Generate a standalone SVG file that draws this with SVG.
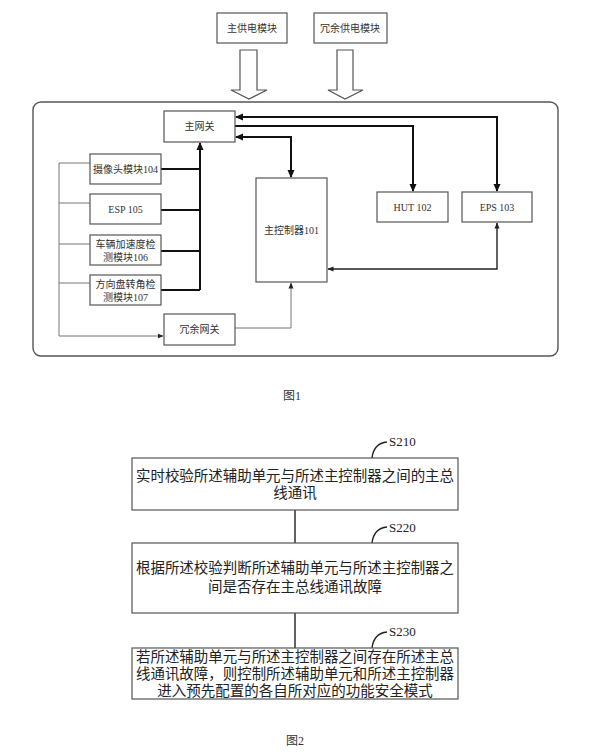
<svg xmlns="http://www.w3.org/2000/svg" width="600" height="755" viewBox="0 0 600 755">
<style>
.box{fill:#fff;stroke:#555;stroke-width:1.2}
.t{font-family:"Liberation Serif","Noto Sans CJK SC",serif;font-size:10px;fill:#333;text-anchor:middle}
.t2{font-family:"Liberation Serif","Noto Sans CJK SC",serif;font-size:14.5px;fill:#222;text-anchor:middle}
.thick{fill:none;stroke:#111;stroke-width:2}
.med{fill:none;stroke:#222;stroke-width:1.4}
.thin{fill:none;stroke:#777;stroke-width:1}
.hollow{fill:#fff;stroke:#555;stroke-width:1.2}
</style>
<defs>
<marker id="ah" markerWidth="8" markerHeight="8" refX="7" refY="4" orient="auto-start-reverse" markerUnits="userSpaceOnUse"><path d="M0,0.5 L8,4 L0,7.5 Z" fill="#111"/></marker>
<marker id="as" markerWidth="6" markerHeight="6" refX="5.5" refY="3" orient="auto-start-reverse" markerUnits="userSpaceOnUse"><path d="M0,0.5 L6,3 L0,5.5 Z" fill="#222"/></marker>
</defs>
<rect width="600" height="755" fill="#fff"/>
<!-- outer frame -->
<rect x="33" y="102" width="525" height="254" rx="8" fill="none" stroke="#555" stroke-width="1.4"/>
<g id="power-main"><rect class="box" x="217" y="13" width="70" height="30"/><text class="t" x="252" y="32">主供电模块</text></g>
<g id="power-redundant"><rect class="box" x="314" y="13" width="73" height="30"/><text class="t" x="350" y="32">冗余供电模块</text></g>
<g id="hollow-arrows">
<path class="hollow" d="M240,50 L257,50 L257,90 L267,90 L249,99 L231,90 L240,90 Z"/>
<path class="hollow" d="M337,50 L353,50 L353,90 L363,90 L345,99 L328,90 L337,90 Z"/>
</g>
<g id="connectors">
<!-- thick bus -->
<path class="thick" d="M200,290 L200,143" marker-end="url(#ah)"/>
<path class="thick" d="M161,169 L200,169 M161,210 L200,210 M161,251 L200,251 M161,290 L200,290"/>
<!-- gateway to EPS -->
<path class="thick" d="M236,117 L497,117 L497,191" marker-start="url(#ah)" marker-end="url(#ah)"/>
<!-- gateway to HUT -->
<path class="thick" d="M235,126 L413,126 L413,191" marker-end="url(#ah)"/>
<!-- gateway to main controller -->
<path class="thick" d="M236,137 L291,137 L291,177" marker-start="url(#ah)" marker-end="url(#ah)"/>
<!-- EPS to main controller -->
<path class="med" d="M497,223 L497,269 L328,269" marker-start="url(#as)" marker-end="url(#as)"/>
<!-- left thin lines to redundant gateway -->
<path class="thin" d="M90,163 L59,163 L59,336 L163,336" marker-end="url(#as)"/>
<path class="thin" d="M90,203 L59,203 M90,244 L59,244 M90,283 L59,283"/>
<!-- redundant gateway to main controller -->
<path class="thin" d="M235,328 L291,328 L291,283" marker-end="url(#as)"/>
</g>
<g id="gateway"><rect class="box" x="164" y="111" width="71" height="31"/><text class="t" x="199.5" y="130">主网关</text></g>
<g id="camera"><rect class="box" x="90" y="154" width="71" height="30"/><text class="t" x="125.5" y="173">摄像头模块104</text></g>
<g id="esp"><rect class="box" x="90" y="194" width="71" height="30"/><text class="t" x="125.5" y="213">ESP 105</text></g>
<g id="accel"><rect class="box" x="90" y="235" width="71" height="30"/><text class="t" x="125.5" y="248">车辆加速度检</text><text class="t" x="125.5" y="261">测模块106</text></g>
<g id="steer"><rect class="box" x="90" y="275" width="71" height="30"/><text class="t" x="125.5" y="288">方向盘转角检</text><text class="t" x="125.5" y="301">测模块107</text></g>
<g id="redundant-gateway"><rect class="box" x="164" y="314" width="71" height="31"/><text class="t" x="199.5" y="333">冗余网关</text></g>
<g id="main-controller"><rect class="box" x="256" y="178" width="71" height="104"/><text class="t" x="291.5" y="234">主控制器101</text></g>
<g id="hut"><rect class="box" x="377" y="192" width="71" height="30"/><text class="t" x="412.5" y="211">HUT 102</text></g>
<g id="eps"><rect class="box" x="462" y="192" width="70" height="30"/><text class="t" x="497" y="211">EPS 103</text></g>
<text class="t" x="292" y="400" style="font-size:12px">图1</text>
<!-- Figure 2 -->
<g id="connectors2">
<path class="med" d="M295,510 L295,543 M295,613 L295,648" stroke="#444"/>
<path class="med" d="M372,458 C373,449 378,443 387,442 M372,543 C373,534 378,528 387,527 M372,648 C373,639 378,633 387,632"/>
</g>
<g id="s210"><rect class="box" x="132" y="458" width="326" height="52" stroke-width="1.4"/>
<text class="t2" x="295" y="481" textLength="318" lengthAdjust="spacingAndGlyphs">实时校验所述辅助单元与所述主控制器之间的主总</text>
<text class="t2" x="295" y="498">线通讯</text>
<text class="t2" x="389" y="446" text-anchor="start" style="text-anchor:start;font-size:13px">S210</text></g>
<g id="s220"><rect class="box" x="132" y="543" width="326" height="70" stroke-width="1.4"/>
<text class="t2" x="295" y="573" textLength="318" lengthAdjust="spacingAndGlyphs">根据所述校验判断所述辅助单元与所述主控制器之</text>
<text class="t2" x="295" y="592">间是否存在主总线通讯故障</text>
<text class="t2" x="389" y="532" style="text-anchor:start;font-size:13px">S220</text></g>
<g id="s230"><rect class="box" x="132" y="648" width="326" height="51" stroke-width="1.4"/>
<text class="t2" x="295" y="662" textLength="318" lengthAdjust="spacingAndGlyphs">若所述辅助单元与所述主控制器之间存在所述主总</text>
<text class="t2" x="295" y="679" textLength="318" lengthAdjust="spacingAndGlyphs">线通讯故障，则控制所述辅助单元和所述主控制器</text>
<text class="t2" x="295" y="696">进入预先配置的各自所对应的功能安全模式</text>
<text class="t2" x="389" y="636" style="text-anchor:start;font-size:13px">S230</text></g>
<text class="t" x="295" y="745" style="font-size:12px">图2</text>
</svg>
